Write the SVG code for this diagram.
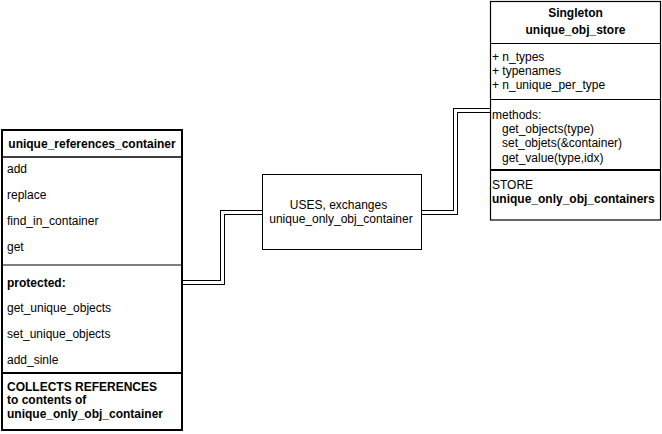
<svg xmlns="http://www.w3.org/2000/svg" width="662" height="434" viewBox="0 0 662 434">
<style>
text{font-family:"Liberation Sans",Arial,sans-serif;font-size:12px;fill:#000}
.b{font-weight:bold}
.c{text-anchor:middle}
.box{fill:#fff;stroke:#000}
.sep{stroke:#000;fill:none}
.lo{fill:none;stroke:#000;stroke-width:5}
.li{fill:none;stroke:#fff;stroke-width:3}
</style>
<rect width="662" height="434" fill="#fff"/>
<g id="connectors">
<path class="lo" d="M183,282.5 H222.5 V212.5 H262"/>
<path class="li" d="M183,282.5 H222.5 V212.5 H262"/>
<path class="lo" d="M422,212.5 H455.5 V110.5 H490"/>
<path class="li" d="M422,212.5 H455.5 V110.5 H490"/>
</g>
<g id="unique_references_container">
<rect class="box" x="2" y="130" width="180" height="300" stroke-width="2"/>
<line class="sep" x1="2" y1="157" x2="182" y2="157" stroke-width="1.5"/>
<line class="sep" x1="2" y1="265" x2="182" y2="265" stroke-width="1"/>
<line class="sep" x1="2" y1="373" x2="182" y2="373" stroke-width="2"/>
<text class="b c" x="92" y="148.3">unique_references_container</text>
<text x="7" y="173.3">add</text>
<text x="7" y="199.3">replace</text>
<text x="7" y="225.3">find_in_container</text>
<text x="7" y="251.3">get</text>
<text class="b" x="7" y="286.6">protected:</text>
<text x="7" y="312.4">get_unique_objects</text>
<text x="7" y="338.2">set_unique_objects</text>
<text x="7" y="363.8">add_sinle</text>
<text class="b" x="7" y="390.5">COLLECTS REFERENCES</text>
<text class="b" x="7" y="404">to contents of</text>
<text class="b" x="7" y="417.5">unique_only_obj_container</text>
</g>
<g id="uses">
<rect class="box" x="262.5" y="174.5" width="159" height="75" stroke-width="1"/>
<text class="c" x="338.5" y="209.3">USES, exchanges</text>
<text class="c" x="341" y="223">unique_only_obj_container</text>
</g>
<g id="unique_obj_store">
<rect class="box" x="490.5" y="1.5" width="170" height="218.5" stroke-width="1.2"/>
<line class="sep" x1="490.5" y1="43.5" x2="660.5" y2="43.5" stroke-width="1"/>
<line class="sep" x1="490.5" y1="99.5" x2="660.5" y2="99.5" stroke-width="1"/>
<line class="sep" x1="490.5" y1="170" x2="660.5" y2="170" stroke-width="2"/>
<text class="b c" x="575.5" y="16.5">Singleton</text>
<text class="b c" x="575.5" y="34.3">unique_obj_store</text>
<text x="492" y="61">+ n_types</text>
<text x="492" y="75">+ typenames</text>
<text x="492" y="89">+ n_unique_per_type</text>
<text x="492" y="119">methods:</text>
<text x="502" y="133.2">get_objects(type)</text>
<text x="502" y="147.4">set_objets(&amp;container)</text>
<text x="502" y="161.6">get_value(type,idx)</text>
<text x="492" y="189.3">STORE</text>
<text class="b" x="492" y="203.3">unique_only_obj_containers</text>
</g>
</svg>
